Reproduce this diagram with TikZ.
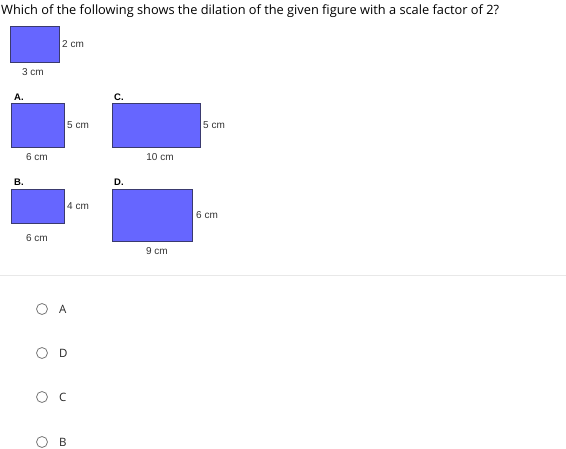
\documentclass[tikz,border=0pt]{standalone}
\usepackage{fontspec}
\setmainfont{Open Sans}
\newfontfamily\arialfont{Liberation Sans}
\definecolor{boxfill}{HTML}{6666FF}
\definecolor{boxline}{HTML}{3A3A6E}
\definecolor{rulegray}{HTML}{E8E8E8}
\definecolor{radiogray}{HTML}{777777}
\begin{document}
\begin{tikzpicture}[x=1pt,y=-1pt,
  box/.style={draw=boxline,fill=boxfill,line width=1pt,inner sep=0pt,anchor=north west},
  dim/.style={font=\arialfont\fontsize{10}{12}\selectfont,inner sep=0pt,text=black!80},
  letter/.style={font=\arialfont\bfseries\fontsize{9.5}{11}\selectfont,anchor=west,inner sep=0pt},
  radio/.style={circle,draw=radiogray,line width=0.8pt,minimum size=11pt,inner sep=0pt},
  choice/.style={font=\fontsize{11.5}{13}\selectfont,anchor=west,inner sep=0pt,text=black!85}]
\useasboundingbox (0,0) rectangle (566,448);
\node [anchor=west,inner sep=0pt,font=\fontsize{12.8}{15}\selectfont] (title) at (1,11) {Which of the following shows the dilation of the given figure with a scale factor of 2?};
% given figure
\node [box,minimum width=49pt,minimum height=36pt] (orig) at (10,26) {};
\node [dim,anchor=west] (origh) at ([xshift=2pt]orig.east) {2 cm};
\node [dim] (origw) at (33,72) {3 cm};
% choices
\begin{scope}[every node/.style={}]
\node [letter] (la) at (14,97) {A.};
\node [box,minimum width=53pt,minimum height=44pt] (ra) at (11,103) {};
\node [dim,anchor=west] (rah) at ([xshift=2pt]ra.east) {5 cm};
\node [dim] (raw) at (37,157) {6 cm};
\node [letter] (lc) at (114,97) {C.};
\node [box,minimum width=88pt,minimum height=44pt] (rc) at (112,103) {};
\node [dim,anchor=west] (rch) at ([xshift=2pt]rc.east) {5 cm};
\node [dim] (rcw) at (160,157) {10 cm};
\node [letter] (lb) at (14,182) {B.};
\node [box,minimum width=53pt,minimum height=34pt] (rb) at (11,189) {};
\node [dim,anchor=west] (rbh) at ([xshift=2pt]rb.east) {4 cm};
\node [dim] (rbw) at (37,238) {6 cm};
\node [letter] (ld) at (114,182) {D.};
\node [box,minimum width=80pt,minimum height=52pt] (rd) at (112,189) {};
\node [dim,anchor=west] (rdh) at ([xshift=3pt]rd.east) {6 cm};
\node [dim] (rdw) at (157,251) {9 cm};
\end{scope}
\draw [rulegray,line width=0.8pt] (0,275) -- (566,275);
% answers
\foreach \y/\t [count=\i] in {309/A,353/D,397/C,442/B} {
  \node [radio] (opt\i) at (42,\y) {};
  \node [choice] (txt\i) at (59,\y) {\t};
}
\end{tikzpicture}
\end{document}
